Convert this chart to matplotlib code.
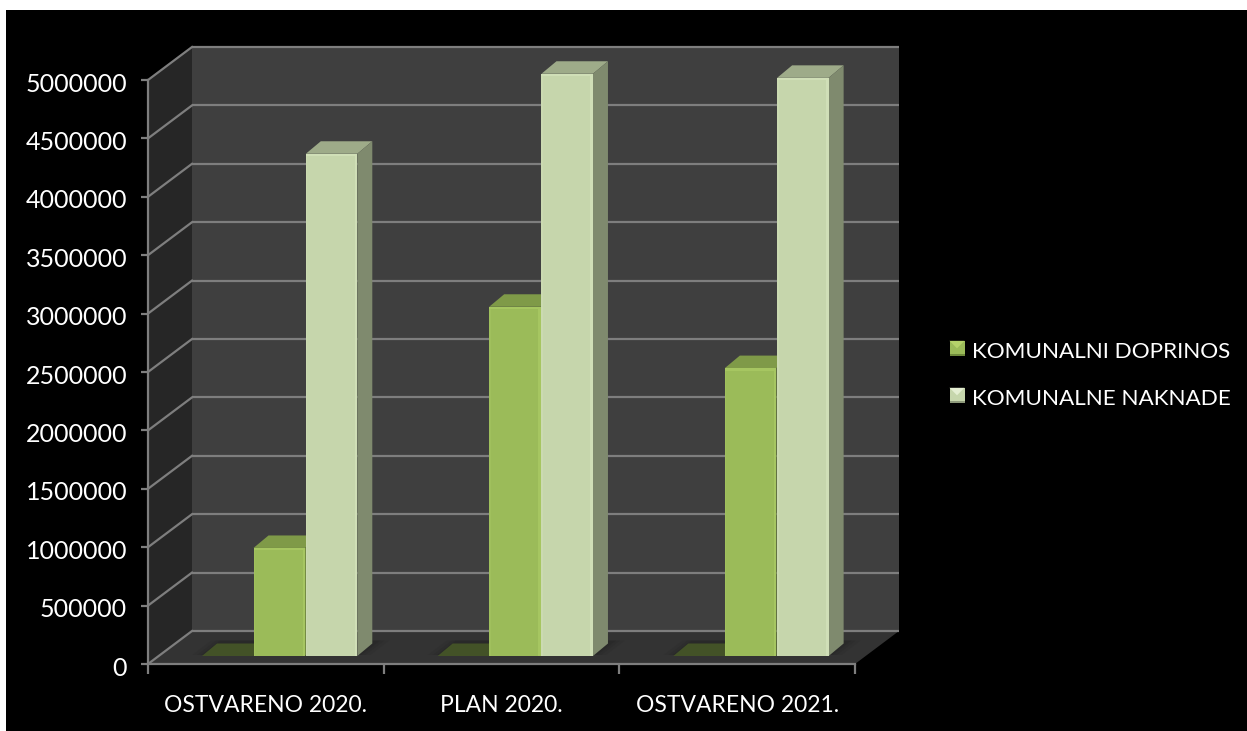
import matplotlib
matplotlib.use("Agg")
import matplotlib.pyplot as plt
from matplotlib.legend_handler import HandlerBase
from matplotlib.patches import Polygon, Rectangle
from matplotlib.transforms import Affine2D

categories = ["OSTVARENO 2020.", "PLAN 2020.", "OSTVARENO 2021."]
unnamed_series = [0, 0, 0]
komunalni_doprinos = [925000, 2990000, 2465000]
komunalne_naknade = [4300000, 4985000, 4950000]
y_ticks = [0, 500000, 1000000, 1500000, 2000000, 2500000, 3000000, 3500000, 4000000, 4500000, 5000000]

W, H = 1247, 731
plt.rcParams["font.family"] = ["Lato", "DejaVu Sans"]
fig = plt.figure(figsize=(W / 100, H / 100), dpi=100, facecolor="white")
fig.add_artist(Rectangle((6 / W, 0), (W - 6) / W, 721 / H, transform=fig.transFigure,
                         facecolor="black", edgecolor="none", zorder=-10))
ax = fig.add_axes([148 / W, (H - 664) / H, (855 - 148) / W, 584 / H])
ax.set_facecolor("none")
ax.set_xlim(0, 3)
ax.set_ylim(0, 5000000)

GRID = "#7e7e7e"
WALL_DX, WALL_DY = 44, 33
BAR_DX, BAR_DY = 11, 8
DEPTH_DX, DEPTH_DY = 15, 12.5
PX = 707 / 3
BAR_W = 51.5 / PX
BAR_START = (202 - 11 - 148) / PX
ymax = y_ticks[-1]
inv = ax.transData.inverted()


def shift(dx, dy):
    return ax.transData + Affine2D().translate(dx, dy)


def at(x, v, dx, dy):
    return inv.transform(shift(dx, dy).transform((x, v)))


def poly(points, color, z, dx=0, dy=0, alpha=None):
    ax.add_patch(Polygon(points, closed=True, facecolor=color, edgecolor="none", alpha=alpha,
                         transform=shift(dx, dy), clip_on=False, zorder=z))


# Back wall, side wall and floor
ax.add_patch(Rectangle((0, 0), 3, ymax, facecolor="#3f3f3f", edgecolor="none",
                       transform=shift(WALL_DX, WALL_DY), clip_on=False, zorder=1))
poly([(0, 0), (0, ymax), at(0, ymax, WALL_DX, WALL_DY), at(0, 0, WALL_DX, WALL_DY)], "#262626", 1)
poly([(0, 0), (3, 0), at(3, 0, WALL_DX, WALL_DY), at(0, 0, WALL_DX, WALL_DY)], "#333333", 1.5)

# Gridlines on the back wall and the side wall
for v in y_ticks:
    ax.plot([0, 3], [v, v], color=GRID, lw=1.6, transform=shift(WALL_DX, WALL_DY),
            clip_on=False, zorder=2, solid_capstyle="butt")
    back = at(0, v, WALL_DX, WALL_DY)
    ax.plot([0, back[0]], [v, back[1]], color=GRID, lw=1.6, clip_on=False, zorder=2)


def bar3d(x, v, front, top, side, hi, z):
    w = BAR_W
    a = at(x, v, DEPTH_DX, DEPTH_DY)
    b = at(x + w, v, DEPTH_DX, DEPTH_DY)
    c = at(x + w, 0, DEPTH_DX, DEPTH_DY)
    poly([(x, v), (x + w, v), b, a], top, z, BAR_DX, BAR_DY)
    if v <= 0:
        return
    poly([(x + w, 0), (x + w, v), b, c], side, z, BAR_DX, BAR_DY)
    tr = shift(BAR_DX, BAR_DY)
    ax.add_patch(Rectangle((x, 0), w, v, facecolor=front, edgecolor="none",
                           transform=tr, clip_on=False, zorder=z))
    edge = 2.5 / PX
    ax.add_patch(Rectangle((x + w - edge, 0), edge, v, facecolor=hi, edgecolor="none",
                           transform=tr, clip_on=False, zorder=z + 0.01))
    ax.add_patch(Rectangle((x, 0), edge * 0.6, v, facecolor=hi, edgecolor="none", alpha=0.5,
                           transform=tr, clip_on=False, zorder=z + 0.01))
    ax.add_patch(Rectangle((x, v - 2.5 * ymax / 584), w, 2.5 * ymax / 584, facecolor=hi,
                           edgecolor="none", transform=tr, clip_on=False, zorder=z + 0.01))


# Soft shadows on the floor, then the bars
for i in range(len(categories)):
    x0 = i + BAR_START
    x1 = x0 + 3 * BAR_W
    for grow, al in ((12, 0.10), (7, 0.14), (3, 0.18)):
        g = grow / PX
        poly([at(x0 - g, 0, BAR_DX + 2, BAR_DY + 1), at(x1 + g, 0, BAR_DX + 2, BAR_DY + 1),
              at(x1 + g, 0, BAR_DX + DEPTH_DX + 6, BAR_DY + DEPTH_DY + 3),
              at(x0 - g, 0, BAR_DX + DEPTH_DX + 6, BAR_DY + DEPTH_DY + 3)], "#1c1c1c", 3, alpha=al)
    bar3d(x0, unnamed_series[i], "#435227", "#435227", "#435227", "#435227", 4)
    bar3d(x0 + BAR_W, komunalni_doprinos[i], "#9bbb59", "#7f9a48", "#748c43", "#a6c661", 5)
    bar3d(x0 + 2 * BAR_W + 0.8 / PX, komunalne_naknade[i], "#c6d6ac", "#9eab89", "#7f8a6e", "#d0dfb7", 6)

# Axes
for s in ("top", "right"):
    ax.spines[s].set_visible(False)
for s in ("left", "bottom"):
    ax.spines[s].set_color(GRID)
    ax.spines[s].set_linewidth(1.6)
    ax.spines[s].set_zorder(7)
ax.set_yticks(y_ticks)
ax.set_yticklabels([str(v) for v in y_ticks], color="white", fontsize=18)
ax.tick_params(axis="y", length=5, width=1.6, color=GRID, pad=10)
for lab in ax.get_yticklabels():
    lab.set_transform(lab.get_transform() + Affine2D().translate(0, -2))
ax.set_xticks([0, 1, 2, 3])
ax.set_xticklabels([])
ax.tick_params(axis="x", which="major", length=7, width=1.6, color=GRID)
ax.set_xticks([0.5, 1.5, 2.5], minor=True)
ax.set_xticklabels(categories, minor=True, color="white", fontsize=16.5)
ax.tick_params(axis="x", which="minor", length=0, pad=22)


class BevelHandler(HandlerBase):
    def __init__(self, base, light, mid, dark):
        super().__init__()
        self.c = (base, light, mid, dark)

    def create_artists(self, legend, orig, xd, yd, width, height, fontsize, trans):
        base, light, mid, dark = self.c
        s = 15 * 0.72
        x0 = 0
        y0 = height / 2 - s / 2
        x1, y1 = x0 + s, y0 + s
        cx, cy = x0 + s / 2, y0 + s / 2
        b = s * 0.13
        arts = [Rectangle((x0, y0), s, s, facecolor=base, edgecolor="none", transform=trans)]
        arts.append(Polygon([(x0, y1), (x1, y1), (cx, cy)], closed=True, facecolor=light,
                            edgecolor="none", transform=trans))
        arts.append(Rectangle((x0, y0), s, b, facecolor=dark, edgecolor="none", transform=trans))
        return arts


h1 = Rectangle((0, 0), 1, 1, label="KOMUNALNI DOPRINOS")
h2 = Rectangle((0, 0), 1, 1, label="KOMUNALNE NAKNADE")
leg = fig.legend(handles=[h1, h2], loc="center left", bbox_to_anchor=(945 / W, (H - 375) / H),
                 frameon=False, fontsize=16.2, labelcolor="white", handlelength=0.75, handleheight=1.0,
                 handletextpad=0.27, labelspacing=1.12, borderpad=0.2, borderaxespad=0,
                 handler_map={h1: BevelHandler("#9bbb59", "#b5d26a", "#8fae4c", "#6f8a3c"),
                              h2: BevelHandler("#c6d6ac", "#e4eed2", "#b4c49b", "#8e9a7b")})

fig.savefig("out.png", dpi=100, facecolor="white")
